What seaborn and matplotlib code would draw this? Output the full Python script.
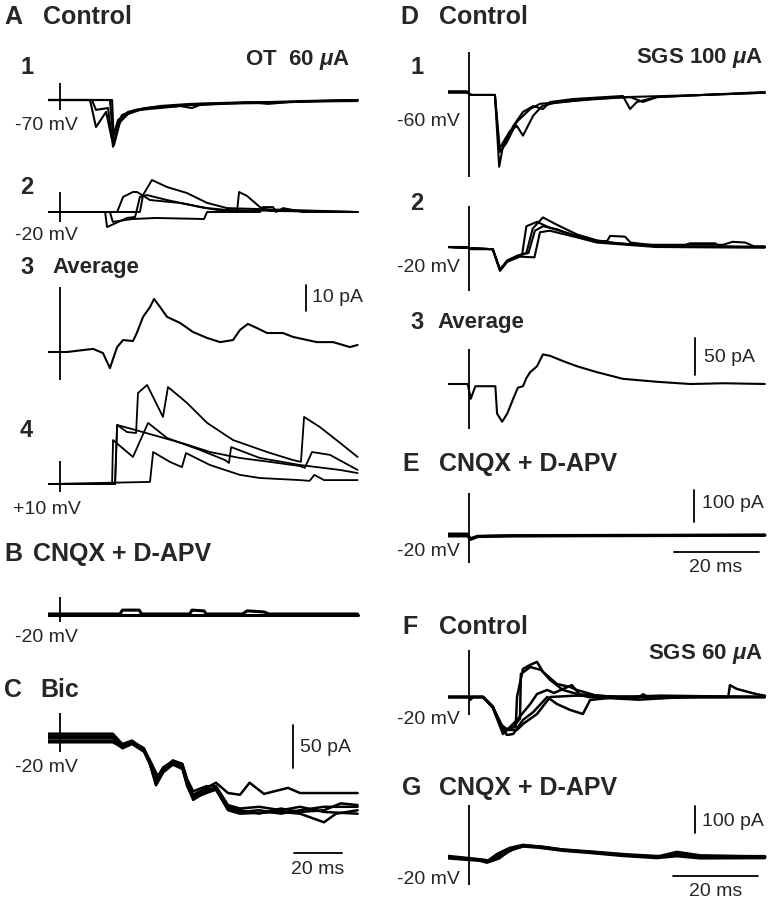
import matplotlib
matplotlib.use("Agg")
import pandas as pd
import matplotlib.pyplot as plt
import seaborn as sns

# ---- data: sweeps as (time ms, current pA), stimulus artifact as (up, down) pA ----
a1_sweeps = [
    [(-5, 0), (12.5, 0), (15, -10.4), (19.2, -4.6), (21.7, -15.4), (24.2, -7.7), (28.3, -4.6), (35.4, -3.1),
     (45.8, -2.3), (56.3, -1.9), (70.8, -1.2), (87.5, -0.8), (124, 0)],
    [(-5, 0), (13.3, 0), (15, -3.8), (20, -3.1), (22.1, -18), (24.2, -9.6), (27.1, -5.8), (33.3, -3.8),
     (45.8, -2.7), (58.3, -1.5), (83.3, -1.2), (124, 0)],
    [(-5, 0), (21.7, 0), (22.5, -17.3), (25, -8.5), (29.2, -4.6), (37.5, -3.1), (50, -2.3), (55, -3.1),
     (58.3, -1.9), (83.3, -0.8), (124, -0.4)],
    [(-5, 0), (20.8, 0), (22.1, -13.5), (25.8, -5.8), (31.3, -3.8), (41.7, -2.3), (54.2, -1.5), (79.2, -0.8),
     (86.7, -1.5), (100, -0.4), (124, 0)],
]
a1_stim = (6.5, -3.8)

a2_sweeps = [
    [(-5, 0), (33.3, 0), (34.6, 6.5), (38.3, 12.3), (44.6, 9.6), (52.9, 7.3), (61.3, 3.5), (69.6, 1.5), (124, 0)],
    [(-5, 0), (23.8, 0), (26.3, 5.8), (30.4, 7.7), (32.1, 7.7), (37.5, 4.6), (50, 3.5), (61.3, 1.5), (73.8, 0.4),
     (74.6, 7.7), (77.9, 6.2), (83.3, 1.9), (87.5, 0.4), (124, 0)],
    [(-5, 0), (18.8, 0), (19.6, -5.8), (27.9, -2.3), (31.3, -1.9), (33.3, 5.8), (36.3, 6.5), (44.6, 4.6),
     (58.3, 1.9), (65.4, 0.8), (124, 0)],
    [(-5, 0), (20.8, 0), (22, -3.8), (30, -2.7), (40, -2.3), (60, -2.7), (61.3, 0), (83.3, 0), (84.6, 1.9),
     (88.8, 1.9), (90, 0), (93, 1.5), (97, 0.8), (101, 0), (124, 0)],
]
a2_stim = (7.7, -3.8)

a3_average = [
    [(-5, 0), (2.9, 0), (13.8, 1.2), (17.9, -0.4), (20.8, -6.2), (23.8, 1.9), (26.3, 4.6), (30.4, 4.2),
     (32, 7.3), (34.6, 13.5), (37.5, 17.3), (39.2, 20.4), (41.7, 17.3), (44.6, 13.5), (50, 11.2), (55.4, 7.7),
     (61.3, 5.4), (66.7, 3.8), (72.1, 4.6), (75, 8.5), (78.3, 10.8), (82.1, 9.2), (86.3, 7.3), (92.9, 7.3),
     (97.1, 5.8), (107, 3.8), (113.8, 3.8), (120.8, 1.9), (124, 2.7)],
]
a3_stim = (25, -10.8)

a4_sweeps = [
    [(-5, 0), (22.9, 0), (23.8, 22.7), (27.9, 20), (31.7, 19.6), (32.5, 35), (36.3, 38.1), (42.9, 25.8),
     (45, 37.3), (52.9, 31.2), (61.3, 23.5), (72.1, 16.9), (86.3, 12.3), (97.1, 9.2), (100.4, 8.5),
     (101.7, 25.8), (108.3, 21.9), (116.7, 15.8), (124, 10.4)],
    [(-5, 0), (21.7, 0), (22.1, 16.9), (30.4, 10.4), (36.7, 23.5), (44.6, 17.7), (58.3, 13.1), (68.8, 9.2),
     (70.4, 8.1), (71.3, 14.2), (83.3, 10), (100, 7.3), (116.7, 5.4), (124, 4.2)],
    [(-5, 0), (23, 0), (23.8, 22.7), (31.3, 20.8), (41.7, 18.1), (52.1, 15.4), (62.5, 12.3), (75, 10),
     (87.5, 8.5), (100, 6.9), (102, 6.2), (105, 12.3), (112.5, 11.2), (124, 5.4)],
    [(-5, 0), (37.5, 0.8), (38.8, 12.3), (45.8, 8.5), (50.8, 6.5), (52.5, 11.9), (62.5, 7.3), (75, 3.5),
     (83.3, 2.3), (100, 1.5), (104, 1.2), (106, 3.5), (110, 1.5), (124, 1.5)],
]
a4_stim = (9, -3)

b_sweeps = [
    [(-5, 0), (25, 0), (26, 1.5), (33, 1.5), (34, 0), (54, 0), (55, 1.5), (60, 1.2), (61, 0), (76, 0),
     (78, 1.2), (85, 0.8), (87, 0), (124, 0)],
    [(-5, -0.4), (124, -0.4)],
]
b_stim = (6.5, -3)

c_sweeps = [
    [(-5, 2), (22, 2), (26, -8), (30, -4), (35, -12), (37.5, -28), (40, -48), (43, -34), (47, -27), (51, -32),
     (53, -50), (55.5, -66), (61, -58), (65, -52), (70, -64), (75, -66), (79, -52), (85, -65), (95, -58),
     (100, -64), (107, -64), (124, -64)],
    [(-5, -3), (22, -3), (26, -12), (30, -7), (35, -16), (37.5, -30), (40, -55), (43, -40), (47, -31),
     (51, -36), (53, -55), (55.5, -72), (61, -62), (65, -60), (70, -84), (75, -88), (83, -87), (92, -86),
     (100, -88), (110, -98), (115, -88), (124, -84)],
    [(-5, 0), (22, 0), (26, -10), (30, -6), (35, -14), (37.5, -29), (40.5, -50), (43, -37), (47, -28),
     (51, -33), (53, -52), (55.5, -68), (61, -60), (65, -58), (70, -80), (75, -84), (83, -88), (92, -82),
     (100, -86), (110, -84), (117, -76), (124, -78)],
    [(-5, 5), (22, 5), (26, -7), (30, -3), (35, -13), (37.5, -26), (41, -46), (43, -36), (47, -26), (51, -30),
     (53, -48), (55.5, -62), (61, -56), (65, -56), (70, -78), (75, -82), (83, -80), (92, -84), (100, -80),
     (110, -86), (124, -88)],
    [(-5, -5), (22, -5), (26, -11), (30, -6), (35, -15), (37.5, -31), (40, -54), (43, -39), (47, -30),
     (51, -35), (53, -56), (55.5, -70), (61, -64), (65, -60), (70, -82), (75, -86), (83, -84), (92, -88),
     (100, -84), (110, -80), (124, -80)],
]
c_stim = (29, -16)

d1_sweeps = [
    [(-5, 0), (-0.5, 0), (0.5, -4), (6.1, -4), (7.1, -101), (8, -73), (10.4, -46), (12.7, -27), (15.1, -19),
     (17.4, -23), (19.1, -13.5), (24.5, -9.5), (36.2, -5.4), (37.9, -23), (39.5, -13.5), (44.2, -6.8),
     (55, -4), (69.6, -1)],
    [(-5, 1), (-0.5, 1), (0.5, -4), (6.1, -4), (7.1, -77), (9.6, -53), (11.3, -46), (12.7, -59), (15.1, -32),
     (17.2, -19), (20, -15), (28.5, -9.5), (38, -7), (40.9, -13.5), (44.2, -7), (55, -4), (69.6, 0)],
    [(-5, -1), (-0.5, -1), (0.5, -4), (6.1, -4), (7.3, -81), (8.9, -68), (11.3, -40), (14.4, -23),
     (16.7, -16), (24.5, -12), (36, -7), (55, -4), (69.6, -1)],
]
d1_stim = (54, -115)

d2_sweeps = [
    [(-5, 0), (-0.5, 0), (0.5, -3), (5.6, -3), (7.3, -32), (8.9, -20), (11.3, -12), (13.5, -8), (15, 25),
     (17.4, 40), (20.7, 30), (25.4, 17), (30.1, 9), (35, 5), (44, 1), (69.6, 0)],
    [(-5, 0), (5.6, -3), (7.3, -30), (9, -19), (11.3, -13), (12.5, -10), (13.5, 28), (16, 34), (19, 26),
     (25.4, 15), (30.1, 8), (32.5, 8), (33.2, 15), (36.7, 14), (38, 6), (44, 2), (50, 1), (52, 5), (57.9, 5),
     (59, 1), (69.6, 0)],
    [(-5, 0), (5.6, -3), (7.3, -31), (9, -18), (11.3, -12), (14, -8), (15.5, 22), (17.4, 28), (20.7, 24),
     (25.4, 14), (30.1, 7), (40, 3), (59.8, 3), (62, 7), (65, 6), (67, 1), (69.6, 1)],
    [(-5, 0), (5.6, -3), (7.3, -32), (9, -20), (12, -13), (15.4, -14), (16.7, 20), (19, 22), (25.4, 13),
     (30.1, 6), (44, 0), (69.6, -1)],
]
d2_stim = (55, -59)

d3_average = [
    [(-5, 0), (-0.3, 0), (0.4, -20), (1.5, -3), (6.2, -3), (6.6, -40), (7.8, -51), (9, -40), (10.4, -20),
     (11.5, -5), (12.7, -3), (13.5, 8), (14.4, 16), (16, 24), (17.4, 40), (19.1, 38), (22.1, 31), (25.4, 24),
     (30.1, 16), (36.2, 7), (44.2, 3), (52, 0), (60, 1), (69.6, 0)],
]
d3_stim = (47, -61)

e_sweeps = [
    [(-5, 3), (-0.3, 3), (0.3, -12), (2, -4), (10, -2), (69.6, 0)],
    [(-5, -3), (-0.3, -3), (0.3, -14), (2, -5), (10, -3), (69.6, -1)],
]
e_stim = (131, -87)

f_sweeps = [
    [(-5, 0), (-0.3, 0), (0.3, -10), (1, 0), (3.3, 0), (5.6, -37), (7.3, -100), (8.9, -119), (11, -110),
     (11.3, 0), (12.7, 104), (14.4, 119), (16, 130), (17.4, 93), (20.7, 48), (23.8, 37), (25.4, 26), (30, 5),
     (39.5, -5), (41, 10), (42.6, -5), (55, 0), (61, 0), (61.4, 44), (63, 30), (67.8, 10), (69.6, 5)],
    [(-5, 0), (3.3, 0), (5.6, -35), (7.3, -100), (8.9, -122), (10.5, -110), (12, -80), (12.2, 85),
     (14.4, 111), (17, 100), (19.1, 63), (22.1, 26), (28, 0), (40, -10), (50, 0), (69.6, 0)],
    [(-5, 0), (3.3, 0), (5.6, -40), (8, -137), (11.3, -85), (14.4, -26), (16, 11), (18.4, 26), (20, 15),
     (24.2, 44), (26, 10), (35, 0), (45, 5), (69.6, 0)],
    [(-5, 0), (3.3, 0), (5.6, -38), (8.9, -141), (10.4, -137), (12.7, -85), (15.1, -56), (18.4, 0),
     (20.7, -26), (23.8, -48), (26.8, -63), (28.5, -11), (35, 0), (69.6, 0)],
    [(-5, 0), (3.3, 0), (5.6, -36), (8, -122), (11.3, -122), (12.7, -100), (16, -63), (19.1, 0), (25, 5),
     (40, 0), (69.6, 0)],
]
f_stim = (174, -67)

g_sweeps = [
    [(-5, 0), (2.6, -11), (4.2, -18), (6.6, 10), (9.6, 33), (12.7, 44), (16.7, 37), (22.1, 26), (28.5, 18),
     (36.2, 7), (44.2, 0), (48.9, 18), (54.4, 5), (69.6, 0)],
    [(-5, -4), (2.6, -13), (4.2, -20), (7, -5), (9.6, 25), (12.7, 40), (16.7, 35), (22.1, 24), (28.5, 16),
     (36.2, 5), (44.2, -3), (48.9, 4), (54.4, -4), (69.6, -3)],
    [(-5, 3), (3, -10), (5, -15), (8, 10), (10.5, 30), (13, 42), (17, 38), (22, 27), (29, 19), (37, 9),
     (45, 2), (50, 12), (55, 3), (69.6, 2)],
]
g_stim = (193, -104)

# scale bar sizes
bar_ms = 20
bar_pa = {"A3": 10, "C": 50, "D3": 50, "E": 100, "G": 100}

# ---- layout ----
W, H = 772, 900
sns.set_style("white")
plt.rcParams["font.family"] = ["Liberation Sans", "DejaVu Sans"]
plt.rcParams["mathtext.fontset"] = "custom"
plt.rcParams["mathtext.it"] = "Liberation Sans:italic:bold"
plt.rcParams["mathtext.rm"] = "Liberation Sans:bold"

fig = plt.figure(figsize=(7.72, 9.0), dpi=100)

# stimulus x (px), px per ms, time range (ms) for each column
COLS = {"L": (60, 2.4, -5, 125), "R": (469, 4.25, -5, 70)}


def panel(col, y_base, px_pa, sweeps, stim, lw=1.3):
    xs, pxms, t0, t1 = COLS[col]
    rows = [(k, t, v) for k, sw in enumerate(sweeps) for t, v in sw]
    df = pd.DataFrame(rows, columns=["sweep", "t", "pA"])
    lo = min(df["pA"].min(), stim[1]) - 2
    hi = max(df["pA"].max(), stim[0]) + 2
    left, right = xs + t0 * pxms, xs + t1 * pxms
    top, bottom = y_base - hi * px_pa, y_base - lo * px_pa
    ax = fig.add_axes([left / W, 1 - bottom / H, (right - left) / W, (bottom - top) / H])
    sns.lineplot(data=df, x="t", y="pA", units="sweep", estimator=None, sort=False,
                 color="black", lw=lw, ax=ax, legend=False)
    ax.vlines(0, stim[1], stim[0], color="black", lw=1.3)
    ax.set_xlim(t0, t1)
    ax.set_ylim(lo, hi)
    ax.axis("off")
    return ax


def txt(x, y, s, size=14, bold=False, ha="left"):
    fig.text(x / W, 1 - y / H, s, fontsize=size, fontweight="bold" if bold else "normal",
             ha=ha, va="center")


def vbar(ax, t, i0, amp):
    ax.plot([t, t], [i0, i0 + amp], color="black", lw=1.3, clip_on=False)


def hbar(ax, t0, i, length):
    ax.plot([t0, t0 + length], [i, i], color="black", lw=1.3, clip_on=False)


# left column
ax_a1 = panel("L", 100, 2.6, a1_sweeps, a1_stim, lw=1.5)
ax_a2 = panel("L", 212, 2.6, a2_sweeps, a2_stim, lw=1.4)
ax_a3 = panel("L", 352, 2.6, a3_average, a3_stim, lw=1.5)
vbar(ax_a3, 102.5, 15.8, bar_pa["A3"])
ax_a4 = panel("L", 484, 2.6, a4_sweeps, a4_stim)
ax_b = panel("L", 614, 2.6, b_sweeps, b_stim, lw=2.2)
ax_c = panel("L", 738, 0.86, c_sweeps, c_stim, lw=1.8)
vbar(ax_c, 97, -35, bar_pa["C"])
hbar(ax_c, 97.5, -134, bar_ms)

# right column
ax_d1 = panel("R", 92, 0.74, d1_sweeps, d1_stim, lw=1.5)
ax_d2 = panel("R", 247, 0.74, d2_sweeps, d2_stim, lw=1.5)
ax_d3 = panel("R", 384, 0.74, d3_average, d3_stim, lw=1.5)
vbar(ax_d3, 53.2, 12, bar_pa["D3"])
ax_e = panel("R", 535, 0.32, e_sweeps, e_stim, lw=2.2)
vbar(ax_e, 53, 40, bar_pa["E"])
hbar(ax_e, 48.2, -53, bar_ms)
ax_f = panel("R", 697, 0.27, f_sweeps, f_stim, lw=1.8)
ax_g = panel("R", 857, 0.27, g_sweeps, g_stim, lw=2.2)
vbar(ax_g, 53.2, 90, bar_pa["G"])
hbar(ax_g, 48, -70, bar_ms)

# text: left column
txt(4, 17, "A", 18, True)
txt(43, 17, "Control", 18, True)
txt(20, 68, "1", 17, True)
txt(350, 60, r"OT  60 $\mu$A", 16, True, ha="right")
txt(15, 126, "-70 mV")
txt(20, 187, "2", 17, True)
txt(15, 236, "-20 mV")
txt(20, 268, "3", 17, True)
txt(52, 268, "Average", 16, True)
txt(312, 297, "10 pA")
txt(20, 430, "4", 17, True)
txt(13, 510, "+10 mV")
txt(4, 554, "B", 18, True)
txt(33, 554, "CNQX + D-APV", 18, True)
txt(15, 637, "-20 mV")
txt(4, 690, "C", 18, True)
txt(40, 690, "Bic", 18, True)
txt(15, 768, "-20 mV")
txt(300, 748, "50 pA")
txt(318, 870, "20 ms", ha="center")

# text: right column
txt(400, 17, "D", 18, True)
txt(439, 17, "Control", 18, True)
txt(410, 67, "1", 17, True)
txt(763, 58, r"SGS 100 $\mu$A", 16, True, ha="right")
txt(397, 122, "-60 mV")
txt(410, 203, "2", 17, True)
txt(397, 268, "-20 mV")
txt(410, 323, "3", 17, True)
txt(437, 323, "Average", 16, True)
txt(704, 357, "50 pA")
txt(402, 464, "E", 18, True)
txt(439, 464, "CNQX + D-APV", 18, True)
txt(702, 503, "100 pA")
txt(397, 552, "-20 mV")
txt(716, 567, "20 ms", ha="center")
txt(402, 627, "F", 18, True)
txt(439, 627, "Control", 18, True)
txt(763, 654, r"SGS 60 $\mu$A", 16, True, ha="right")
txt(397, 720, "-20 mV")
txt(402, 788, "G", 18, True)
txt(439, 788, "CNQX + D-APV", 18, True)
txt(702, 822, "100 pA")
txt(397, 880, "-20 mV")
txt(716, 891, "20 ms", ha="center")

plt.savefig("out.png", dpi=100)
